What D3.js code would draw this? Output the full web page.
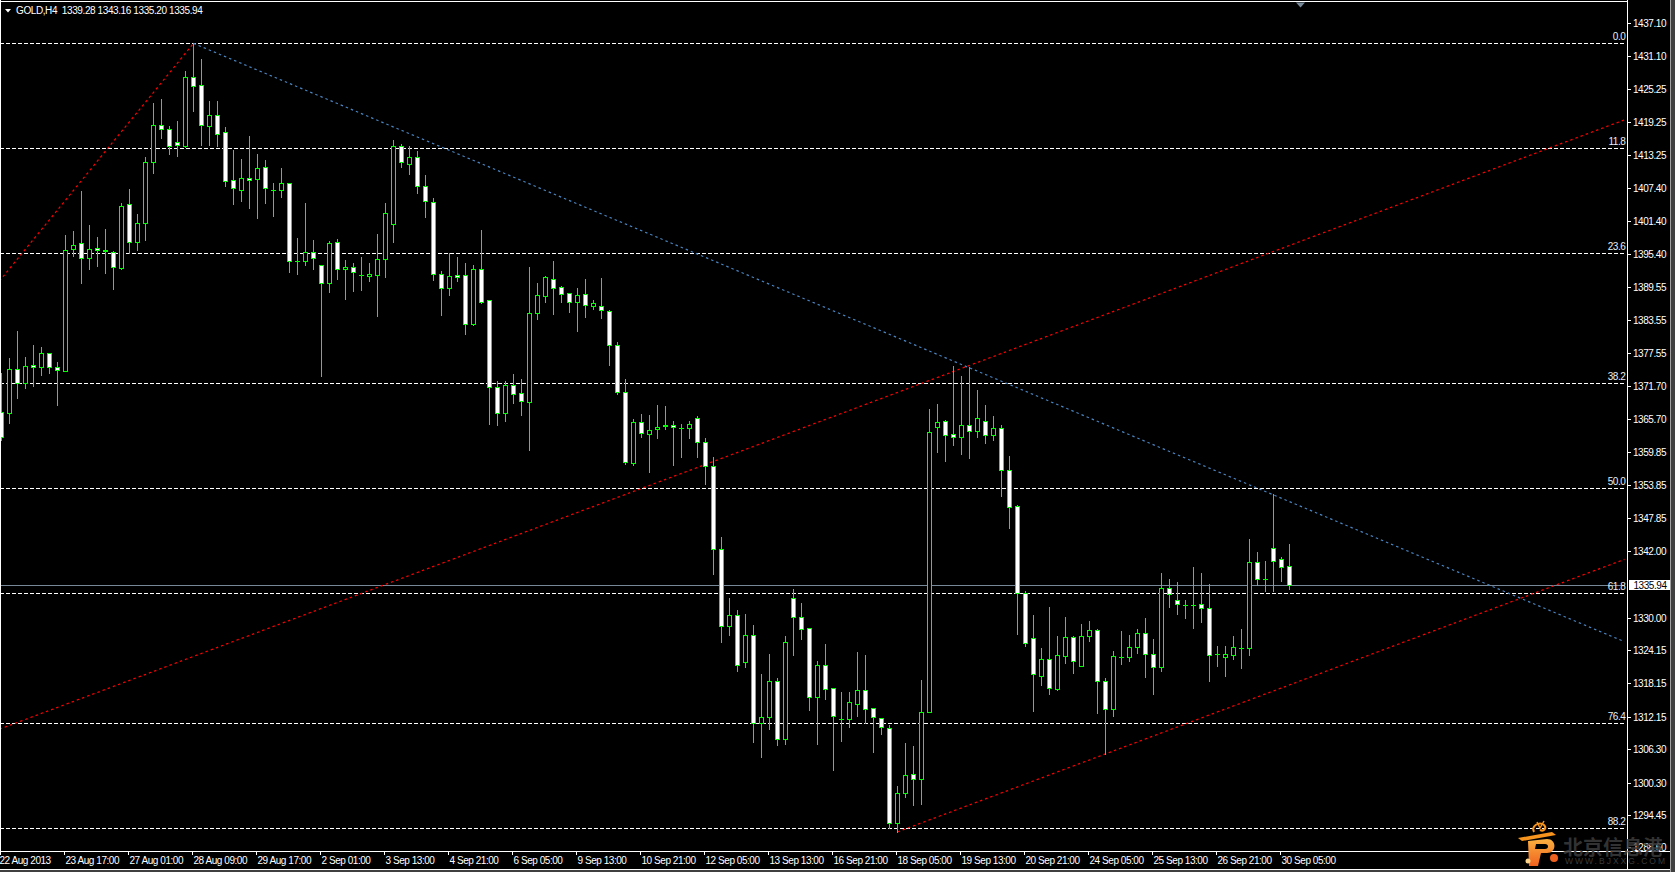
<!DOCTYPE html>
<html><head><meta charset="utf-8">
<script src="https://cdn.jsdelivr.net/npm/d3@7"></script>
<style>html,body{margin:0;padding:0;background:#000;overflow:hidden}text{white-space:pre}</style>
</head><body><svg id="c" width="1675" height="872"></svg>
<script>
// ---------------- data ----------------
const symbolTitle = "GOLD,H4";
const lastQuote = ["1339.28", "1343.16", "1335.20", "1335.94"];
const opens = [1367.01,1366.83,1374.75,1372.23,1375.47,1375.11,1377.63,1375.11,1374.39,1396.35,
1397.43,1394.73,1396.53,1396.17,1395.81,1392.93,1404.45,1397.61,1401.03,1412.01,
1418.67,1417.95,1415.61,1414.89,1427.31,1425.87,1418.49,1420.47,1417.41,1408.77,
1406.97,1409.13,1408.95,1411.11,1406.97,1406.97,1408.23,1394.19,1394.19,1395.81,
1393.47,1390.23,1397.61,1392.75,1393.11,1391.67,1391.55,1391.67,1394.55,1400.85,
1414.89,1411.65,1412.91,1407.69,1404.81,1391.85,1389.33,1391.67,1391.67,1382.85,
1392.75,1387.17,1371.51,1366.83,1371.87,1370.43,1368.81,1384.83,1387.89,1390.95,
1389.51,1388.43,1386.81,1388.25,1386.09,1386.09,1385.19,1379.07,1370.61,1357.83,
1365.21,1363.05,1363.95,1364.49,1364.67,1364.13,1364.13,1365.93,1361.61,1357.29,
1342.35,1328.49,1330.47,1322.01,1326.87,1311.03,1312.11,1318.59,1308.15,1333.53,
1330.11,1328.13,1315.71,1321.47,1317.33,1311.75,1311.75,1314.45,1316.97,1313.73,
1311.93,1310.13,1293.03,1298.43,1301.85,1300.95,1313.01,1364.31,1365.39,1363.05,
1362.51,1364.67,1363.59,1365.39,1362.87,1364.13,1356.57,1350.09,1334.43,1326.33,
1319.49,1322.55,1317.15,1323.09,1326.51,1321.29,1326.69,1327.77,1318.59,1313.55,
1322.91,1322.91,1324.71,1327.23,1323.45,1321.11,1335.33,1333.17,1332.27,1332.27,
1332.45,1331.73,1323.45,1322.91,1323.27,1324.53,1324.53,1340.01,1336.95,1342.53,
1340.55,1339.28];
const highs = [1374.03,1376.73,1381.59,1376.91,1379.07,1378.71,1377.63,1376.01,1398.87,1399.59,
1406.79,1400.67,1398.51,1399.95,1395.99,1404.63,1407.15,1402.65,1412.91,1422.63,
1423.35,1418.49,1419.39,1428.39,1433.38,1430.55,1422.99,1422.99,1418.31,1414.17,
1412.55,1416.69,1413.45,1412.37,1408.23,1410.93,1408.23,1398.33,1404.63,1397.97,
1393.47,1397.79,1398.15,1394.37,1393.83,1394.91,1393.83,1399.05,1404.63,1415.97,
1415.25,1414.89,1413.99,1409.67,1405.53,1392.39,1395.63,1394.91,1393.83,1393.47,
1399.77,1387.17,1372.59,1372.59,1373.85,1372.95,1393.11,1390.23,1391.49,1394.19,
1389.69,1388.43,1389.33,1390.95,1387.17,1391.13,1385.37,1379.61,1372.95,1365.75,
1366.65,1366.47,1368.27,1368.09,1365.39,1364.85,1365.39,1366.29,1362.33,1358.91,
1344.51,1333.53,1331.37,1330.65,1328.67,1319.85,1323.45,1319.13,1326.69,1335.15,
1332.63,1328.13,1322.19,1325.25,1317.33,1316.61,1316.61,1323.81,1323.27,1313.73,
1311.93,1310.67,1299.69,1307.43,1306.89,1318.77,1367.55,1368.45,1365.57,1375.29,
1373.49,1375.11,1370.97,1368.27,1366.29,1364.67,1359.09,1350.27,1334.79,1330.47,
1324.53,1331.91,1326.69,1330.11,1326.69,1328.85,1329.39,1327.95,1319.13,1323.99,
1327.59,1326.87,1327.95,1329.93,1326.15,1338.03,1336.95,1336.41,1333.17,1339.11,
1338.03,1336.05,1324.89,1324.89,1326.69,1327.95,1344.15,1341.81,1340.19,1352.25,
1340.91,1343.16];
const lows = [1361.97,1365.03,1369.53,1371.33,1371.69,1373.67,1374.03,1368.27,1374.39,1395.09,
1390.23,1392.75,1393.29,1392.03,1389.15,1392.75,1395.63,1396.17,1397.97,1410.03,
1416.33,1413.45,1413.09,1414.71,1421.19,1415.07,1415.07,1414.89,1407.69,1404.45,
1404.99,1403.73,1401.93,1404.63,1402.29,1405.71,1392.21,1391.85,1393.47,1392.75,
1373.49,1388.61,1390.95,1387.35,1388.79,1388.97,1390.59,1384.29,1391.31,1397.61,
1411.11,1409.85,1406.43,1402.11,1390.77,1384.47,1388.07,1390.59,1381.05,1382.67,
1386.63,1364.85,1364.67,1365.39,1368.63,1366.47,1360.17,1383.75,1386.81,1384.65,
1386.81,1385.01,1381.59,1384.11,1385.55,1383.93,1375.47,1370.25,1357.65,1357.47,
1362.51,1356.21,1362.33,1363.95,1357.47,1358.91,1362.33,1358.91,1354.05,1337.85,
1325.61,1326.87,1320.39,1321.11,1307.61,1304.91,1309.95,1307.07,1307.25,1323.27,
1326.15,1313.37,1307.25,1315.35,1302.57,1307.79,1310.31,1312.29,1311.03,1305.81,
1309.05,1292.13,1291.41,1297.71,1296.27,1296.45,1313.01,1359.81,1358.19,1361.07,
1359.45,1358.73,1362.51,1361.43,1361.97,1351.89,1346.13,1327.05,1324.89,1313.19,
1317.87,1316.25,1316.97,1321.83,1320.03,1321.29,1325.79,1312.83,1305.45,1312.29,
1321.65,1322.19,1323.63,1319.31,1316.25,1320.39,1331.91,1330.65,1329.93,1328.13,
1329.21,1318.59,1321.29,1319.49,1322.55,1320.93,1323.27,1335.87,1334.79,1334.79,
1336.59,1335.20];
const closes = [1362.51,1374.75,1372.23,1375.29,1375.11,1377.63,1375.11,1374.57,1396.17,1397.07,
1394.73,1396.35,1396.17,1395.99,1393.11,1404.09,1397.61,1401.03,1412.01,1418.67,
1417.95,1414.89,1415.07,1427.31,1425.69,1418.67,1420.47,1417.05,1408.59,1407.33,
1409.13,1408.77,1410.93,1407.33,1406.97,1408.23,1394.19,1394.19,1395.81,1394.73,
1390.23,1397.43,1392.75,1393.11,1392.21,1391.67,1391.85,1394.55,1402.83,1414.89,
1412.01,1412.91,1407.69,1404.99,1391.85,1389.33,1391.49,1391.31,1382.85,1392.75,
1386.81,1371.51,1366.83,1371.87,1370.25,1368.99,1384.83,1388.07,1391.31,1389.33,
1388.25,1386.81,1388.07,1386.27,1386.63,1385.37,1379.07,1370.61,1358.01,1365.21,
1363.23,1363.77,1364.31,1364.67,1364.31,1364.13,1364.85,1361.61,1357.29,1342.35,
1328.49,1330.47,1321.47,1326.87,1311.03,1312.11,1318.59,1308.15,1325.61,1330.11,
1327.95,1315.71,1321.47,1317.15,1312.29,1311.75,1314.81,1316.97,1313.55,1312.11,
1310.31,1293.03,1298.43,1301.67,1300.95,1313.01,1363.41,1365.21,1362.87,1362.51,
1364.67,1363.59,1365.93,1362.87,1364.13,1356.57,1349.91,1334.43,1325.43,1319.85,
1322.55,1317.33,1323.27,1326.51,1322.19,1326.69,1327.77,1318.59,1313.55,1323.09,
1322.91,1324.71,1327.23,1323.45,1321.11,1335.33,1334.25,1332.45,1332.27,1332.27,
1331.73,1323.27,1323.45,1323.45,1324.71,1324.53,1340.01,1336.95,1336.95,1340.19,
1339.11,1335.94];
const timeLabels = ["22 Aug 2013","23 Aug 17:00","27 Aug 01:00","28 Aug 09:00","29 Aug 17:00",
"2 Sep 01:00","3 Sep 13:00","4 Sep 21:00","6 Sep 05:00","9 Sep 13:00","10 Sep 21:00",
"12 Sep 05:00","13 Sep 13:00","16 Sep 21:00","18 Sep 05:00","19 Sep 13:00","20 Sep 21:00",
"24 Sep 05:00","25 Sep 13:00","26 Sep 21:00","30 Sep 05:00"];
const timeLabelStep = 8; // one label every 8 bars
const priceTicks = [1437.10,1431.10,1425.25,1419.25,1413.25,1407.40,1401.40,1395.40,1389.55,
1383.55,1377.55,1371.70,1365.70,1359.85,1353.85,1347.85,1342.00,1330.00,1324.15,1318.15,
1312.15,1306.30,1300.30,1294.45,1288.60];
const currentPrice = 1335.94;
const fibLevels = [0.0, 11.8, 23.6, 38.2, 50.0, 61.8, 76.4, 88.2];
const fibHigh = 1433.38, fibLow = 1273.18;
// trend lines: [bar index, price] anchors
const trendRise = [[-0.25, 1390.6], [24, 1433.38]];
const channelUpper = [[-0.25, 1309.91], [202.875, 1419.61]];
const channelLower = [[112, 1291.41], [202.875, 1340.48]];
const trendFall = [[24, 1433.38], [202.875, 1325.65]];

// ---------------- drawing ----------------
const W = 1675, H = 872, axisX = 1627, axisY = 851;
const FONT = "'Liberation Sans', Arial, sans-serif";
const svg = d3.select("#c");
svg.append("rect").attr("width", W).attr("height", H).attr("fill", "#000");

const x = d3.scaleLinear().domain([0, 1]).range([1, 9]);          // candle pixel column
const yLin = d3.scaleLinear().domain([1294.45, 1437.10]).range([815, 22.7]);
const y = yLin.copy().interpolate(d3.interpolateRound);

svg.append("defs").append("clipPath").attr("id", "plot")
  .append("rect").attr("x", 0).attr("y", 0).attr("width", 1625).attr("height", axisY);

const plot = svg.append("g").attr("clip-path", "url(#plot)");

// fibonacci levels
const fibPrice = l => fibHigh - (fibHigh - fibLow) * l / 100;
plot.selectAll("line.fib").data(fibLevels).join("line").attr("class", "fib")
  .attr("x1", 0).attr("x2", 1625)
  .attr("y1", d => y(fibPrice(d)) + 0.5).attr("y2", d => y(fibPrice(d)) + 0.5)
  .attr("stroke", "#fff").attr("stroke-width", 1).attr("stroke-dasharray", "4,2");
svg.selectAll("text.fib").data(fibLevels).join("text").attr("class", "fib")
  .attr("x", 1625.5).attr("y", d => y(fibPrice(d)) - 3)
  .attr("text-anchor", "end").attr("fill", "#e4eefa")
  .attr("font-family", FONT).attr("font-size", 10).attr("letter-spacing", "-0.4px")
  .text(d => d.toFixed(1));

// current price line
plot.append("line").attr("x1", 0).attr("x2", axisX)
  .attr("y1", y(currentPrice) + 0.5).attr("y2", y(currentPrice) + 0.5)
  .attr("stroke", "#778899").attr("stroke-width", 1);

// trend lines
const tl = d3.line().x(d => x(d[0]) + 0.5).y(d => yLin(d[1]));
[[trendRise, "#ff0000"], [channelUpper, "#ff0000"], [channelLower, "#ff0000"], [trendFall, "#4a84c0"]]
  .forEach(([pts, col]) => {
    plot.append("path").attr("d", tl(pts)).attr("fill", "none")
      .attr("stroke", col).attr("stroke-width", 1.2).attr("stroke-dasharray", "2.5,3");
  });

// candles
const bars = d3.range(opens.length);
const cg = plot.append("g");
cg.selectAll("rect.wick").data(bars).join("rect").attr("class", "wick")
  .attr("x", i => x(i)).attr("y", i => y(highs[i]))
  .attr("width", 1).attr("height", i => Math.max(1, y(lows[i]) - y(highs[i]) + 1))
  .attr("fill", "#00ff00");
cg.selectAll("rect.body").data(bars).join("rect").attr("class", "body")
  .each(function (i) {
    const yo = y(opens[i]), yc = y(closes[i]);
    const top = Math.min(yo, yc), bot = Math.max(yo, yc);
    const r = d3.select(this);
    if (bot - top < 1) {
      r.attr("x", x(i) - 2).attr("y", top).attr("width", 5).attr("height", 1)
        .attr("fill", "#00ff00");
    } else {
      r.attr("x", x(i) - 1.5).attr("y", top + 0.5).attr("width", 4).attr("height", bot - top)
        .attr("fill", opens[i] > closes[i] ? "#ffffff" : "#000000")
        .attr("stroke", "#00ff00").attr("stroke-width", 1);
    }
  });

// frame lines
svg.append("rect").attr("x", 0).attr("y", 0).attr("width", 1).attr("height", axisY + 1).attr("fill", "#fff");
svg.append("rect").attr("x", 0).attr("y", 1).attr("width", axisX).attr("height", 1).attr("fill", "#fff");
svg.append("rect").attr("x", axisX).attr("y", 0).attr("width", 1).attr("height", 870).attr("fill", "#fff");
svg.append("rect").attr("x", 0).attr("y", axisY).attr("width", 1670).attr("height", 1).attr("fill", "#fff");

// price axis
const yAxis = d3.axisRight(y).tickValues(priceTicks).tickFormat(d3.format(".2f"))
  .tickSize(4).tickSizeOuter(0).tickPadding(2);
const ya = svg.append("g").attr("transform", `translate(${axisX},0)`).call(yAxis);
ya.select(".domain").remove();
ya.selectAll("line").attr("stroke", "#fff");
ya.selectAll("text").attr("fill", "#fff").attr("font-family", FONT).attr("font-size", 10)
  .attr("letter-spacing", "-0.45px");

// current price tag
svg.append("rect").attr("x", 1629).attr("y", y(currentPrice) - 5).attr("width", 41).attr("height", 10).attr("fill", "#fff");
svg.append("text").attr("x", 1633.5).attr("y", y(currentPrice) + 4).attr("fill", "#000")
  .attr("font-family", FONT).attr("font-size", 10).attr("letter-spacing", "-0.45px")
  .text(d3.format(".2f")(currentPrice));

// time axis
const xAxisScale = d3.scaleLinear().domain([0, 1]).range([0, 8]);
const tickBars = timeLabels.map((_, j) => j * timeLabelStep);
const xAxis = d3.axisBottom(xAxisScale).tickValues(tickBars)
  .tickFormat((d, j) => timeLabels[j]).tickSize(4).tickSizeOuter(0).tickPadding(2);
const xa = svg.append("g").attr("transform", `translate(0,${axisY})`).call(xAxis);
xa.select(".domain").remove();
xa.selectAll("line").attr("stroke", "#fff");
xa.selectAll("text").attr("fill", "#fff").attr("font-family", FONT).attr("font-size", 10)
  .attr("letter-spacing", "-0.45px").attr("text-anchor", "start")
  .attr("x", (d, j) => j === 0 ? -1 : 1);

// header
svg.append("path").attr("d", "M5,9 L11,9 L8,12.5 Z").attr("fill", "#fff");
svg.append("text").attr("x", 16).attr("y", 14).attr("fill", "#fff")
  .attr("font-family", FONT).attr("font-size", 10).attr("letter-spacing", "-0.4px")
  .text(symbolTitle + "  " + lastQuote.join(" "));

// chart shift marker
svg.append("path").attr("d", "M1296,2.5 L1305,2.5 L1300.5,7.5 Z").attr("fill", "#778899");

// window edges
svg.append("rect").attr("x", 1670).attr("y", 0).attr("width", 1).attr("height", H).attr("fill", "#a0a0a0");
svg.append("rect").attr("x", 1671).attr("y", 0).attr("width", 4).attr("height", H).attr("fill", "#404040");
svg.append("rect").attr("x", 0).attr("y", 869).attr("width", 1670).attr("height", 1).attr("fill", "#fff");
svg.append("rect").attr("x", 0).attr("y", 870).attr("width", 1670).attr("height", 2).attr("fill", "#404040");

// watermark
const wm = svg.append("g");
const grad = svg.select("defs").append("linearGradient").attr("id", "og")
  .attr("x1", 0).attr("y1", 0).attr("x2", 0).attr("y2", 1);
grad.append("stop").attr("offset", "0%").attr("stop-color", "#fbb040");
grad.append("stop").attr("offset", "100%").attr("stop-color", "#f0621f");
wm.append("path").attr("d", "M1534,832 C1531,826 1539,821 1544,825 C1547,828 1544,832 1540,830")
  .attr("fill", "none").attr("stroke", "#f7941d").attr("stroke-width", 2);
wm.append("path").attr("d", "M1537,822 L1540,828 L1544,821").attr("fill", "none").attr("stroke", "#f7941d").attr("stroke-width", 1.5);
wm.append("path").attr("d", "M1518,838 L1552,832 L1556,835 L1522,841 Z").attr("fill", "#f7941d");
wm.append("path").attr("fill-rule", "evenodd").attr("fill", "url(#og)")
  .attr("d", "M1528,841 L1547,839 C1557,839 1557,853 1547,853 L1541,853 L1538,866 L1529,866 Z M1536,844 L1545,844 C1549,844 1549,849 1545,849 L1535,849 Z");
wm.append("circle").attr("cx", 1554).attr("cy", 858).attr("r", 4).attr("fill", "#f0621f");
wm.append("circle").attr("cx", 1528).attr("cy", 861).attr("r", 2.5).attr("fill", "#fcd38a");
wm.append("text").attr("x", 1563).attr("y", 855).attr("fill", "#3a3a3a").attr("fill-opacity", 0.9)
  .attr("font-family", "'Noto Sans CJK SC', sans-serif").attr("font-weight", "bold").attr("font-size", 20)
  .text("北京信息港");
wm.append("text").attr("x", 1565).attr("y", 864).attr("fill", "#3a3a3a")
  .attr("font-family", FONT).attr("font-size", 8.5).attr("letter-spacing", "2px")
  .text("WWW.BJXXG.COM");
</script></body></html>
